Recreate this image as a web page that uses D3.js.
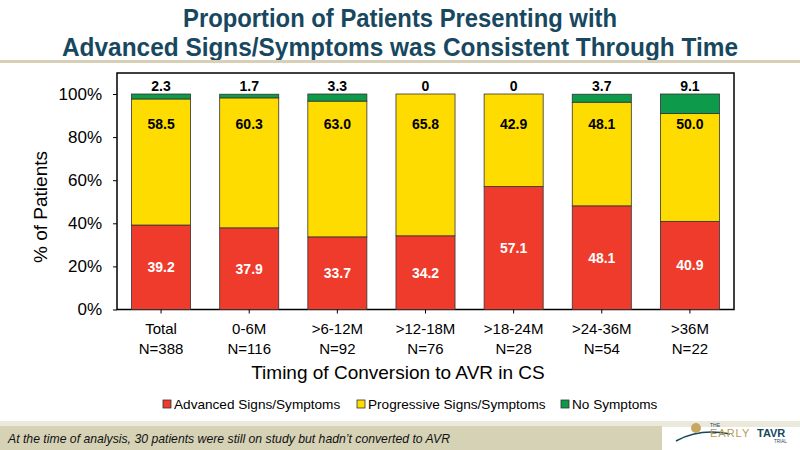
<!DOCTYPE html>
<html><head><meta charset="utf-8">
<script src="https://cdn.jsdelivr.net/npm/d3@7"></script>
<style>body{margin:0;background:#fff;}svg{display:block;}</style>
</head><body>
<svg id="c" width="800" height="450"></svg>
<script>
const categories = ["Total","0-6M",">6-12M",">12-18M",">18-24M",">24-36M",">36M"];
const nLabels = ["N=388","N=116","N=92","N=76","N=28","N=54","N=22"];
const advanced = [39.2,37.9,33.7,34.2,57.1,48.1,40.9];
const progressive = [58.5,60.3,63.0,65.8,42.9,48.1,50.0];
const noSymptoms = [2.3,1.7,3.3,0,0,3.7,9.1];
const seriesNames = ["Advanced Signs/Symptoms","Progressive Signs/Symptoms","No Symptoms"];
const yTicks = [0,20,40,60,80,100];

(function(){
const colors = ["#ee3b2c","#ffdc00","#0d9a4a"];
const svg = d3.select("#c");
const sans = "Arial,'Liberation Sans',sans-serif";

// title (condensed via textLength)
svg.append("text").attr("x",400).attr("y",27).attr("text-anchor","middle")
  .attr("font-family",sans).attr("font-weight","bold").attr("font-size",26).attr("fill","#17485f")
  .attr("textLength",434).attr("lengthAdjust","spacingAndGlyphs")
  .text("Proportion of Patients Presenting with");
svg.append("text").attr("x",400).attr("y",56).attr("text-anchor","middle")
  .attr("font-family",sans).attr("font-weight","bold").attr("font-size",26).attr("fill","#17485f")
  .attr("textLength",676).attr("lengthAdjust","spacingAndGlyphs")
  .text("Advanced Signs/Symptoms was Consistent Through Time");
svg.append("rect").attr("x",0).attr("y",60).attr("width",800).attr("height",3).attr("fill","#d8d0b6");

// footer
svg.append("rect").attr("x",0).attr("y",421).attr("width",800).attr("height",6).attr("fill","#ebe8dc");
svg.append("rect").attr("x",0).attr("y",426).attr("width",662).attr("height",24).attr("fill","#d6d2b6");
svg.append("text").attr("x",8).attr("y",443).attr("font-family",sans).attr("font-style","italic")
  .attr("font-size",13).attr("fill","#111").attr("textLength",442).attr("lengthAdjust","spacingAndGlyphs")
  .text("At the time of analysis, 30 patients were still on study but hadn\u2019t converted to AVR");
// logo
const lg = svg.append("g");
lg.append("path").attr("d","M676,441 Q700,428 730,434").attr("stroke","#17485f").attr("stroke-width",1.5).attr("fill","none");
lg.append("circle").attr("cx",696).attr("cy",428).attr("r",5).attr("fill","#c8a860");
lg.append("text").attr("x",710).attr("y",427).attr("font-family",sans).attr("font-size",5).attr("fill","#17485f").text("THE");
lg.append("text").attr("x",710).attr("y",437).attr("font-family",sans).attr("font-size",11).attr("letter-spacing",1).attr("fill","#b89a50").text("EARLY");
lg.append("text").attr("x",757).attr("y",437).attr("font-family",sans).attr("font-weight","bold").attr("font-size",11).attr("fill","#17485f").text("TAVR");
lg.append("text").attr("x",774).attr("y",443).attr("font-family",sans).attr("font-size",4.5).attr("fill","#17485f").text("TRIAL");

// plot
const pL=117,pR=734,pT=73,pB=309.5;
const x = d3.scaleBand().domain(categories).range([pL,pR]).paddingInner(0.33).paddingOuter(0.165);
const y = d3.scaleLinear().domain([0,100]).range([pB,94]);

svg.append("rect").attr("x",pL).attr("y",pT).attr("width",pR-pL).attr("height",pB-pT)
  .attr("fill","none").attr("stroke","#000").attr("stroke-width",1.5);

const data = categories.map((c,i)=>({cat:c, Advanced:advanced[i], Progressive:progressive[i], None:noSymptoms[i]}));
const stack = d3.stack().keys(["Advanced","Progressive","None"])(data);
stack.forEach((s,si)=>{
  svg.append("g").selectAll("rect").data(s).join("rect")
    .attr("x",d=>x(d.data.cat)).attr("width",x.bandwidth())
    .attr("y",d=>y(d[1])).attr("height",d=>Math.max(0,y(d[0])-y(d[1])))
    .attr("fill",colors[si]).attr("stroke","#333").attr("stroke-width",d=>d[1]-d[0]>0?0.8:0);
});

const label = (vals, yf, fill, fmt) => svg.append("g").selectAll("text").data(vals).join("text")
  .attr("x",(d,i)=>x(categories[i])+x.bandwidth()/2).attr("y",yf)
  .attr("text-anchor","middle").attr("font-family",sans).attr("font-weight","bold").attr("font-size",14)
  .attr("fill",fill).text(fmt);
label(advanced,(d,i)=>y(advanced[i]/2)+5,"#fff",d=>d.toFixed(1));
label(progressive,()=>y(86)+5,"#000",d=>d.toFixed(1));
label(noSymptoms,()=>y(100)-3,"#000",d=>d===0?"0":d.toFixed(1));

// y axis
const ya = svg.append("g").attr("transform",`translate(${pL},0)`)
  .call(d3.axisLeft(y).tickValues(yTicks).tickFormat(d=>d+"%").tickSize(0).tickPadding(15));
ya.select(".domain").remove();
ya.selectAll("text").attr("font-family",sans).attr("font-size",17).attr("fill","#000");
ya.selectAll(".tick").append("line").attr("x1",-4).attr("x2",0).attr("stroke","#000");

// x axis
const xa = svg.append("g").attr("transform",`translate(0,${pB})`)
  .call(d3.axisBottom(x).tickSize(4).tickFormat(""));
xa.select(".domain").remove();
xa.selectAll("line").attr("stroke","#000");
xa.selectAll(".tick").each(function(d,i){
  const t = d3.select(this).append("text").attr("fill","#000").attr("font-family",sans).attr("font-size",15).attr("text-anchor","middle");
  t.append("tspan").attr("x",0).attr("y",24).text(d);
  t.append("tspan").attr("x",0).attr("y",44).text(nLabels[i]);
});

svg.append("text").attr("x",398).attr("y",379).attr("text-anchor","middle")
  .attr("font-family",sans).attr("font-size",19).attr("fill","#000").text("Timing of Conversion to AVR in CS");
svg.append("text").attr("transform","translate(47,207) rotate(-90)").attr("text-anchor","middle")
  .attr("font-family",sans).attr("font-size",19).attr("fill","#000").text("% of Patients");

const legX = [163,357,561];
seriesNames.forEach((n,i)=>{
  svg.append("rect").attr("x",legX[i]).attr("y",400).attr("width",8).attr("height",8)
    .attr("fill",colors[i]).attr("stroke","#333").attr("stroke-width",0.8);
  svg.append("text").attr("x",legX[i]+11).attr("y",409).attr("font-family",sans).attr("font-size",13.6)
    .attr("fill","#000").text(n);
});
})();
</script>
</body></html>
